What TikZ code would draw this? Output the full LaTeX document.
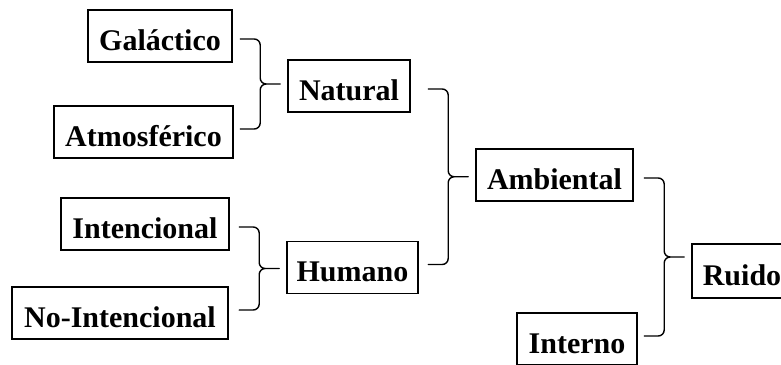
\documentclass[tikz,border=0pt]{standalone}
\usepackage{fontspec}
\setmainfont{Liberation Serif}
\usetikzlibrary{calc}

\tikzset{
  box/.style={draw, line width=1.6pt, inner sep=0pt, minimum height=52pt,
    font=\fontsize{30pt}{36pt}\selectfont\bfseries,
    text height=30pt, text depth=2pt},
  brace/.style={line width=1.4pt, line cap=round, line join=round},
}

% Brace joining two nodes (#1 above, #2 below) into a target node #3
\newcommand{\bracejoin}[3]{%
  \draw[brace] let \p1=(#1.center), \p2=(#2.center), \p3=(#3.west),
      \n1={(\y1+\y2)/2} in
    (\x3-47pt,\y1-3pt) -- (\x3-33pt,\y1-3pt) to[out=0,in=90] (\x3-27pt,\y1-9pt)
    -- (\x3-27pt,\n1+6pt) to[out=-90,in=180] (\x3-21pt,\n1) -- (\x3-7pt,\n1)
    (\x3-21pt,\n1) to[out=180,in=90] (\x3-27pt,\n1-6pt)
    -- (\x3-27pt,\y2+9pt) to[out=-90,in=0] (\x3-33pt,\y2+3pt) -- (\x3-47pt,\y2+3pt);}

\begin{document}
\begin{tikzpicture}[x=1pt,y=-1pt]
  \useasboundingbox (0,0) rectangle (781,364);

  \node[box, minimum width=144pt] (gal) at (160,36) {Galáctico};
  \node[box, minimum width=179pt] (atm) at (143.5,132) {Atmosférico};
  \node[box, minimum width=122pt] (nat) at (349,86) {Natural};

  \node[box, minimum width=168pt] (inten) at (145,224) {Intencional};
  \node[box, minimum width=216pt] (noint) at (120,313) {No-Intencional};
  \node[box, minimum width=131pt] (hum) at (352.5,267.5) {Humano};

  \node[box, minimum width=157pt] (amb) at (554.5,175) {Ambiental};
  \node[box, minimum width=120pt] (intr) at (577,339) {Interno};
  \node[box, minimum width=100pt, minimum height=54pt] (ruido) at (742,271) {Ruido};

  \bracejoin{gal}{atm}{nat}
  \bracejoin{inten}{noint}{hum}
  \bracejoin{nat}{hum}{amb}
  \bracejoin{amb}{intr}{ruido}
\end{tikzpicture}
\end{document}
